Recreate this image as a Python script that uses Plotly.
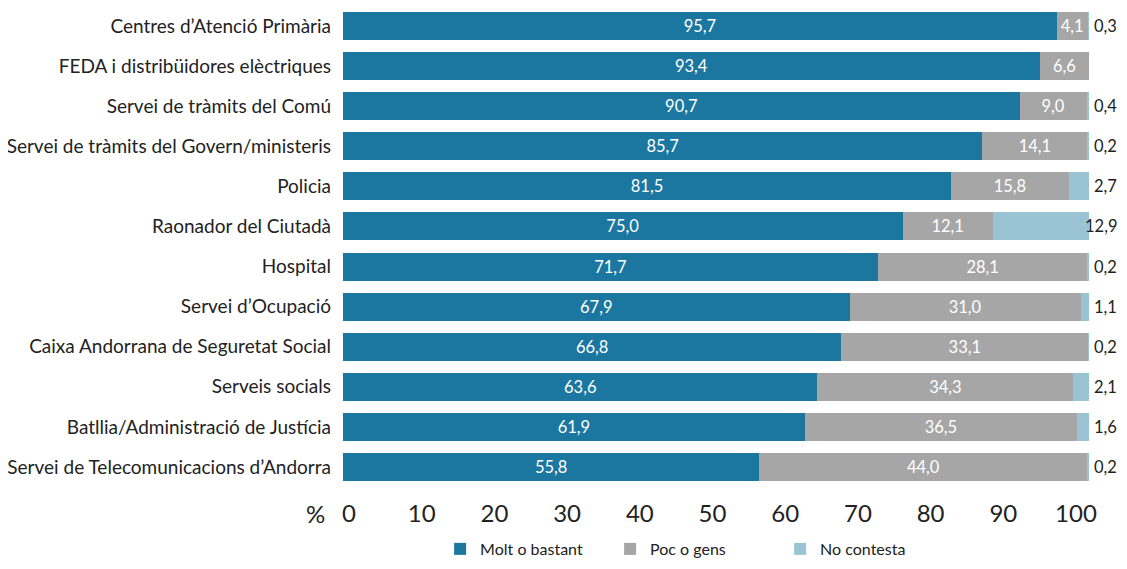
import plotly.graph_objects as go

categories = [
    "Centres d’Atenció Primària",
    "FEDA i distribüidores elèctriques",
    "Servei de tràmits del Comú",
    "Servei de tràmits del Govern/ministeris",
    "Policia",
    "Raonador del Ciutadà",
    "Hospital",
    "Servei d’Ocupació",
    "Caixa Andorrana de Seguretat Social",
    "Serveis socials",
    "Batllia/Administració de Justícia",
    "Servei de Telecomunicacions d’Andorra",
]
molt_bastant = [95.7, 93.4, 90.7, 85.7, 81.5, 75.0, 71.7, 67.9, 66.8, 63.6, 61.9, 55.8]
poc_gens = [4.1, 6.6, 9.0, 14.1, 15.8, 12.1, 28.1, 31.0, 33.1, 34.3, 36.5, 44.0]
no_contesta = [0.3, 0.0, 0.4, 0.2, 2.7, 12.9, 0.2, 1.1, 0.2, 2.1, 1.6, 0.2]
x_ticks = [0, 10, 20, 30, 40, 50, 60, 70, 80, 90, 100]

series_names = ["Molt o bastant", "Poc o gens", "No contesta"]
colors = ["#1c77a0", "#a6a6a6", "#9ac3d4"]
FONT = "Lato, 'Open Sans', sans-serif"
TXT = "#222222"

fig = go.Figure()
for vals, name, col, show in [(molt_bastant, series_names[0], colors[0], True),
                              (poc_gens, series_names[1], colors[1], True),
                              (no_contesta, series_names[2], colors[2], False)]:
    fig.add_trace(go.Bar(
        y=categories, x=vals, orientation="h", name=name,
        marker=dict(color=col, line=dict(width=0)),
        texttemplate="%{x:.1f}" if show else None,
        textposition="inside" if show else "none",
        insidetextanchor="middle", constraintext="none",
        textfont=dict(color="white", size=16.5, family=FONT),
    ))

# axis carrying the percentage tick labels (placed as in the reference)
fig.add_trace(go.Scatter(x=[x_ticks[0], x_ticks[-1]], y=[categories[0], categories[0]],
                         xaxis="x2", mode="markers", marker=dict(opacity=0),
                         showlegend=False, hoverinfo="skip"))

annotations = []
for cat, v in zip(categories, no_contesta):
    if v > 0:
        annotations.append(dict(
            x=1.0402, xref="paper", y=cat, yref="y", xanchor="right",
            text=f"{v:.1f}".replace(".", ","), showarrow=False,
            font=dict(size=16.5, color=TXT, family=FONT),
        ))
annotations.append(dict(
    x=-0.0375, xref="paper", y=-0.05, yref="paper", xanchor="center", yanchor="middle",
    text="%", showarrow=False, font=dict(size=24, color=TXT, family=FONT),
))

fig.update_layout(
    width=1111, height=553,
    barmode="stack", bargap=0.30,
    separators=",.",
    plot_bgcolor="rgba(0,0,0,0)", paper_bgcolor="white",
    margin=dict(l=335, r=30, t=0, b=72, autoexpand=False),
    font=dict(family=FONT, color=TXT),
    showlegend=True,
    legend=dict(orientation="h", x=0.472, xanchor="center", y=-0.1247, yanchor="middle",
                font=dict(size=16, family=FONT, color=TXT), traceorder="normal",
                entrywidth=125, entrywidthmode="pixels",
                bgcolor="rgba(0,0,0,0)"),
    annotations=annotations,
    xaxis=dict(range=[0, 100], showticklabels=False, showgrid=False, zeroline=False,
               showline=False, ticks=""),
    xaxis2=dict(range=[0, 100], domain=[0.00804, 0.98257], anchor="y",
                tickvals=x_ticks, showgrid=False, zeroline=False, showline=False,
                ticks="", ticklabelstandoff=8,
                tickfont=dict(size=24, family=FONT, color=TXT)),
    yaxis=dict(range=[11.55, -0.45], autorange=False, showgrid=False, showline=False,
               ticks="", ticklabelstandoff=11,
               tickfont=dict(size=19, family=FONT, color=TXT)),
)

fig.write_html("out.html")
